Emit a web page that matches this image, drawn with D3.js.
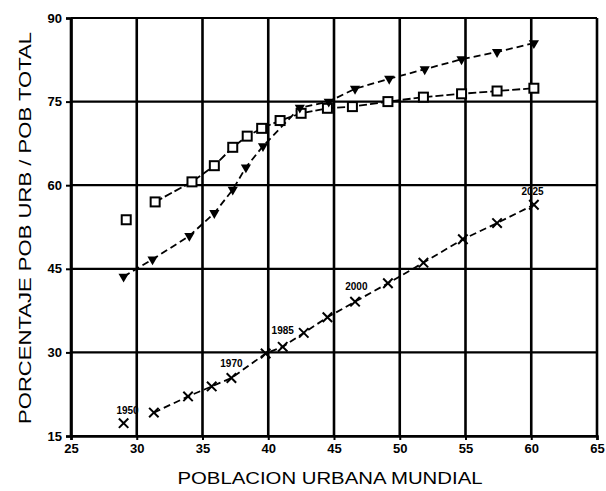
<!DOCTYPE html>
<html>
<head>
<meta charset="utf-8">
<script src="https://cdn.jsdelivr.net/npm/d3@7"></script>
<style>
  html, body { margin: 0; padding: 0; background: #fff; }
  svg { display: block; }
  text { font-family: "Liberation Sans", Arial, sans-serif; fill: #000; }
</style>
</head>
<body>
<svg id="chart" width="606" height="491"></svg>
<script>
// ---- data ----
const xTicks = [25, 30, 35, 40, 45, 50, 55, 60, 65];
const yTicks = [15, 30, 45, 60, 75, 90];

// squares series
const sqX = [29.2, 31.4, 34.2, 35.9, 37.3, 38.4, 39.5, 40.9, 42.5, 44.5, 46.4, 49.1, 51.8, 54.7, 57.4, 60.2];
const sqY = [53.8, 57.0, 60.6, 63.5, 66.8, 68.8, 70.2, 71.6, 72.9, 73.8, 74.1, 75.0, 75.8, 76.4, 76.9, 77.4];

// triangles series
const trX = [29.0, 31.2, 34.0, 35.9, 37.3, 38.3, 39.6, 42.4, 44.6, 46.6, 49.2, 51.9, 54.7, 57.4, 60.2];
const trY = [43.6, 46.7, 50.9, 55.0, 59.2, 63.2, 67.0, 73.9, 75.0, 77.3, 79.1, 80.8, 82.6, 83.9, 85.5];

// crosses series
const crX = [29.0, 31.3, 33.9, 35.7, 37.2, 39.8, 41.1, 42.7, 44.5, 46.6, 49.1, 51.8, 54.8, 57.4, 60.2];
const crY = [17.3, 19.2, 22.1, 23.9, 25.4, 29.8, 31.0, 33.5, 36.3, 39.1, 42.4, 46.1, 50.3, 53.2, 56.5];

// year annotations on the crosses series
const yearLabels = ["1950", "1970", "1985", "2000", "2025"];
const yearX = [29.3, 37.2, 41.1, 46.7, 60.1];
const yearY = [19.5, 27.9, 33.8, 41.7, 58.8];

const xTitle = "POBLACION URBANA MUNDIAL";
const yTitle = "PORCENTAJE POB URB / POB TOTAL";

// ---- drawing ----
const svg = d3.select("#chart");
const L = 71, R = 597, T = 18, B = 436;
const x = d3.scaleLinear().domain([25, 65]).range([L, R]);
const y = d3.scaleLinear().domain([15, 90]).range([B, T]);

// grid
svg.append("g").selectAll("line").data(xTicks).join("line")
  .attr("x1", d => x(d)).attr("x2", d => x(d))
  .attr("y1", T).attr("y2", B)
  .attr("stroke", "#000").attr("stroke-width", 2.6);
svg.append("g").selectAll("line").data(yTicks).join("line")
  .attr("x1", L).attr("x2", R)
  .attr("y1", d => y(d)).attr("y2", d => y(d))
  .attr("stroke", "#000").attr("stroke-width", 2.2);

// axes
const yAxis = d3.axisLeft(y).tickValues(yTicks).tickSize(5).tickPadding(4);
const gy = svg.append("g").attr("transform", `translate(${L},0)`).call(yAxis);
gy.select(".domain").attr("stroke-width", 2.6);
gy.selectAll(".tick line").attr("stroke-width", 2);
gy.selectAll(".tick text")
  .style("font-family", '"Liberation Sans", Arial, sans-serif')
  .style("font-size", "13px").style("font-weight", "bold");

const xAxis = d3.axisBottom(x).tickValues(xTicks).tickSize(4).tickPadding(4);
const gx = svg.append("g").attr("transform", `translate(0,${B})`).call(xAxis);
gx.select(".domain").attr("stroke-width", 2.6);
gx.selectAll(".tick line").attr("stroke-width", 2);
gx.selectAll(".tick text")
  .style("font-family", '"Liberation Sans", Arial, sans-serif')
  .style("font-size", "13px").style("font-weight", "bold");

// lines
const line = d3.line().x(d => x(d[0])).y(d => y(d[1]));
const sq = d3.zip(sqX, sqY), tr = d3.zip(trX, trY), cr = d3.zip(crX, crY);

svg.append("path").datum(sq.slice(1)).attr("d", line)
  .attr("fill", "none").attr("stroke", "#000").attr("stroke-width", 1.8)
  .attr("stroke-dasharray", "8,3");
svg.append("path").datum(tr).attr("d", line)
  .attr("fill", "none").attr("stroke", "#000").attr("stroke-width", 1.8)
  .attr("stroke-dasharray", "7,4");
svg.append("path").datum(cr.slice(1)).attr("d", line)
  .attr("fill", "none").attr("stroke", "#000").attr("stroke-width", 1.8)
  .attr("stroke-dasharray", "7,4");

// markers
svg.append("g").selectAll("rect").data(sq).join("rect")
  .attr("x", d => x(d[0]) - 4.5).attr("y", d => y(d[1]) - 4.5)
  .attr("width", 9).attr("height", 9)
  .attr("fill", "#fff").attr("stroke", "#000").attr("stroke-width", 2);

svg.append("g").selectAll("path").data(tr).join("path")
  .attr("d", d3.symbol(d3.symbolTriangle, 45))
  .attr("transform", d => `translate(${x(d[0])},${y(d[1])}) rotate(180)`)
  .attr("fill", "#000");

svg.append("g").selectAll("path").data(cr).join("path")
  .attr("d", d3.symbol(d3.symbolTimes, 60))
  .attr("transform", d => `translate(${x(d[0])},${y(d[1])})`)
  .attr("fill", "none").attr("stroke", "#000").attr("stroke-width", 2);

// year labels
svg.append("g").selectAll("text").data(yearLabels).join("text")
  .attr("x", (d, i) => x(yearX[i])).attr("y", (d, i) => y(yearY[i]))
  .attr("text-anchor", "middle").attr("dominant-baseline", "middle")
  .style("font-size", "10px").style("font-weight", "bold")
  .text(d => d);

// titles
svg.append("text")
  .attr("x", 330).attr("y", 484)
  .attr("text-anchor", "middle")
  .style("font-size", "16px")
  .attr("textLength", 305).attr("lengthAdjust", "spacingAndGlyphs")
  .text(xTitle);

svg.append("text")
  .attr("transform", "translate(31,228) rotate(-90)")
  .attr("text-anchor", "middle")
  .style("font-size", "17px")
  .attr("textLength", 392).attr("lengthAdjust", "spacingAndGlyphs")
  .text(yTitle);
</script>
</body>
</html>
